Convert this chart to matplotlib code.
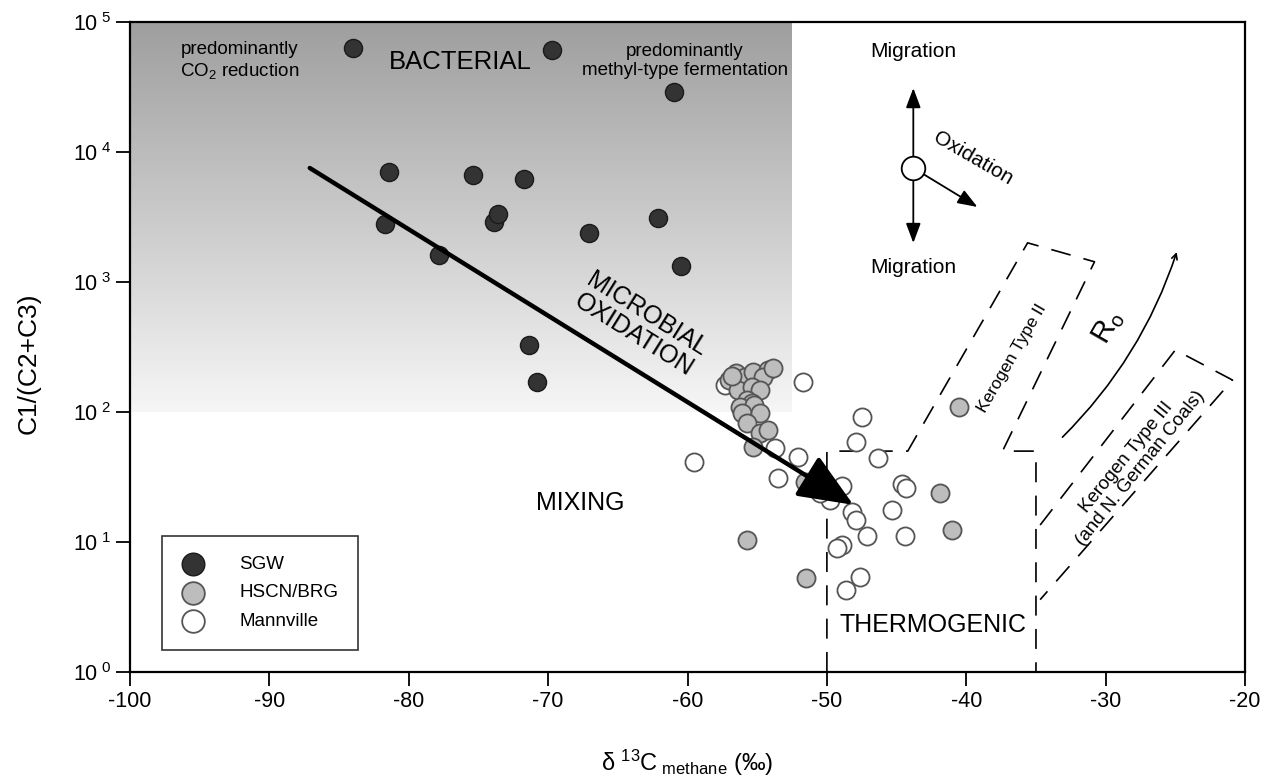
import matplotlib
matplotlib.use("Agg")
import matplotlib.pyplot as plt
import numpy as np
from matplotlib.ticker import FuncFormatter, NullLocator, FixedLocator

plt.rcParams['font.family'] = ['Liberation Sans', 'DejaVu Sans']
plt.rcParams['mathtext.fontset'] = 'custom'
plt.rcParams['mathtext.rm'] = 'Liberation Sans'
plt.rcParams['mathtext.it'] = 'Liberation Sans'
plt.rcParams['axes.unicode_minus'] = False

# SGW samples (dark)
sgw_d13c = [-84.0, -69.7, -61.0, -81.4, -75.4, -71.7, -81.7, -73.9, -73.6,
            -77.8, -67.1, -62.1, -60.5, -71.4, -70.8]
sgw_ratio = [63000, 61000, 29000, 7000, 6650, 6200, 2800, 2900, 3350,
             1610, 2380, 3100, 1330, 330, 170]

# HSCN/BRG samples (grey)
hscn_d13c = [-56.5, -57.0, -55.9, -55.3, -54.2, -54.6, -56.4, -55.4, -54.8,
             -55.7, -55.4, -56.2, -55.2, -56.1, -54.8, -55.7, -54.8, -54.2,
             -55.3, -53.9, -56.8, -51.6, -55.7, -51.5, -41.9, -41.0, -40.5]
hscn_ratio = [200, 176, 186, 203, 210, 186, 148, 156, 148,
              124, 117, 109, 113, 98, 98, 82, 69, 73,
              54, 218, 190, 29, 10.4, 5.3, 24, 12.4, 109]

# Mannville samples (white)
mann_d13c = [-57.3, -51.7, -59.5, -53.7, -52.1, -53.5, -47.5, -47.9, -46.3,
             -48.9, -44.6, -44.3, -49.8, -48.2, -47.9, -45.3, -47.1, -44.4,
             -48.9, -49.3, -47.6, -48.6, -50.5]
mann_ratio = [160, 170, 41, 53, 45, 31, 92, 59, 44,
              27, 28, 26, 21, 17, 14.8, 17.6, 11.1, 11.1,
              9.5, 9.0, 5.4, 4.3, 24]

# thermogenic field boundaries
thermo_x = [-50, -50, -44.2, -35.6, -30.8, -37.4, -35, -35]
thermo_y = [1, 50, 50, 2000, 1430, 50, 50, 1]
kero3_x = [-34.7, -25.0, -20.9, -34.7]
kero3_y = [13.5, 300, 176, 3.6]

fig = plt.figure(figsize=(12.68, 7.82), dpi=100)
ax = fig.add_axes([0.1025, 0.1407, 0.8794, 0.8312])
ax.set_yscale('log')
ax.set_xlim(-100, -20)
ax.set_ylim(1, 1e5)

# bacterial field, grey gradient
yy = np.logspace(2, 5, 120)
shade = np.linspace(0.96, 0.62, 119).reshape(-1, 1)
ax.pcolormesh([-100, -52.5], yy, shade, cmap='gray', vmin=0, vmax=1,
              shading='flat', zorder=0)

ax.plot(thermo_x, thermo_y, color='black', lw=1.2, dashes=(12, 8), zorder=1)
ax.plot(kero3_x, kero3_y, color='black', lw=1.2, dashes=(12, 8), zorder=1)

ax.scatter(sgw_d13c, sgw_ratio, s=170, c='#333333', edgecolors='#1a1a1a',
           linewidths=1.0, zorder=3, label='SGW')
ax.scatter(hscn_d13c, hscn_ratio, s=170, c='#bdbdbd', edgecolors='#555555',
           linewidths=1.3, zorder=3, label='HSCN/BRG')
ax.scatter(mann_d13c, mann_ratio, s=170, c='white', edgecolors='#555555',
           linewidths=1.3, zorder=2, label='Mannville')

# microbial oxidation arrow
ax.annotate('', xy=(-48.1, 19.3), xytext=(-87.1, 7530),
            arrowprops=dict(arrowstyle='-|>,head_length=1.0,head_width=0.42',
                            mutation_scale=34, lw=3.2, color='black',
                            shrinkA=0, shrinkB=0), zorder=5)

# migration / oxidation symbol
mc = (-43.8, 7530)
for tip in [(-43.8, 31000), (-43.8, 1995), (-39.2, 3775)]:
    ax.annotate('', xy=tip, xytext=mc,
                arrowprops=dict(arrowstyle='-|>,head_length=0.8,head_width=0.3',
                                mutation_scale=15, lw=1.3, color='black',
                                shrinkA=8, shrinkB=0))
ax.plot(*mc, 'o', ms=17, mfc='white', mec='black', mew=1.3, zorder=6)
ax.text(-43.8, 58800, 'Migration', fontsize=15, ha='center', va='center')
ax.text(-43.8, 1282, 'Migration', fontsize=15, ha='center', va='center')
ax.text(-39.5, 9000, 'Oxidation', fontsize=15, ha='center', va='center', rotation=-30)

# Ro arrow
ax.annotate('', xy=(-24.9, 1700), xytext=(-33.1, 64),
            arrowprops=dict(arrowstyle='->', lw=1.2, color='black',
                            connectionstyle='arc3,rad=0.12', shrinkA=0, shrinkB=0))
ax.text(-29.8, 450, r'R$_{\mathrm{o}}$', fontsize=21, ha='center', va='center', rotation=60)

ax.text(-36.7, 260, 'Kerogen Type II', fontsize=12.5, ha='center', va='center', rotation=60)
ax.text(-28.0, 40.5, 'Kerogen Type III\n(and N. German Coals)', fontsize=13.5,
        ha='center', va='center', rotation=51, linespacing=1.05)

ax.text(-76.3, 49200, 'BACTERIAL', fontsize=18.5, ha='center', va='center')
ax.text(-92.1, 50000, 'predominantly\nCO$_2$ reduction', fontsize=13.5, ha='center',
        va='center', linespacing=1.15)
ax.text(-60.2, 50000, 'predominantly\nmethyl-type fermentation', fontsize=13.5,
        ha='center', va='center', linespacing=1.15)
ax.text(-63.4, 467, 'MICROBIAL\nOXIDATION', fontsize=18, ha='center', va='center',
        rotation=-32, linespacing=1.0)
ax.text(-67.7, 20, 'MIXING', fontsize=18, ha='center', va='center')
ax.text(-42.4, 2.3, 'THERMOGENIC', fontsize=18, ha='center', va='center')

# axes styling
ax.xaxis.set_major_locator(FixedLocator(np.arange(-100, -19, 10)))
ax.yaxis.set_major_locator(FixedLocator([1, 10, 100, 1e3, 1e4, 1e5]))
ax.yaxis.set_minor_locator(NullLocator())
ax.yaxis.set_major_formatter(FuncFormatter(lambda v, p: r'10$^{\ %d}$' % round(np.log10(v))))
ax.tick_params(axis='both', labelsize=15.5, length=10, width=1.3, direction='out')
for sp in ax.spines.values():
    sp.set_linewidth(1.6)

ax.set_xlabel(r'$\delta\ ^{13}$C$_{\mathrm{\ methane}}$ (‰)', fontsize=17, labelpad=26)
ax.set_ylabel('C1/(C2+C3)', fontsize=19, labelpad=12)
ax.yaxis.set_label_coords(-0.08, 0.475)

leg = ax.legend(loc='lower left', bbox_to_anchor=(0.029, 0.034), borderaxespad=0,
                fontsize=13.5, frameon=True, fancybox=False, edgecolor='black',
                handletextpad=1.86, borderpad=1.05, labelspacing=0.62,
                handlelength=1.2, scatterpoints=1, markerscale=1.25)
leg.get_frame().set_linewidth(1.2)

fig.savefig('out.png', dpi=100)
